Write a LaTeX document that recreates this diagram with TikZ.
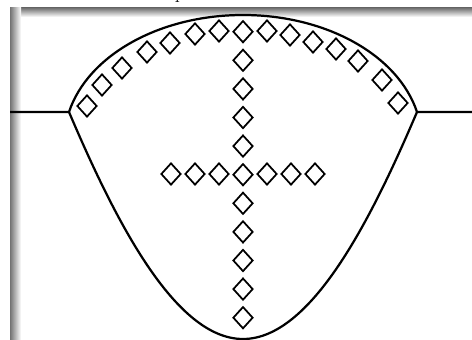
\documentclass[tikz,border=0pt]{standalone}
\usetikzlibrary{shapes.geometric}
\tikzset{
  rim/.style={line width=1.9pt, line join=round},
  dia/.style={draw, diamond, line width=1.5pt, minimum width=0.6cm, minimum height=0.66cm, inner sep=0pt},
  capn/.style={font=\LARGE, anchor=base, inner sep=0pt},
}
\begin{document}
\begin{tikzpicture}[x=0.03cm,y=0.03cm]
\useasboundingbox (0,0) rectangle (472,340);
\begin{scope}
\clip (0,0) rectangle (472,340);
\node[capn] (cap) at (180,341) {p};
\end{scope}
% frame shadow
\shade[top color=black!55, bottom color=white] (10,332) rectangle (472,323);
\shade[left color=black!55, right color=white] (10,0) rectangle (21,332);
% outline
\coordinate (wl) at (10,228);
\coordinate (ml) at (69,228);
\coordinate (mr) at (417,228);
\coordinate (wr) at (472,228);
\coordinate (top) at (243,325);
\coordinate (bot) at (243,1);
\draw[rim] (wl) -- (ml) .. controls (88,285) and (160,325) .. (top) .. controls (326,325) and (398,285) .. (mr) -- (wr);
\draw[rim] (ml) .. controls (115,120) and (175,1) .. (bot) .. controls (311,1) and (371,120) .. (mr);
% cross
\foreach \i in {0,...,10}
  \node[dia] (v\i) at (243,{308.3-28.6*\i}) {};
\foreach \j [count=\k] in {-3,-2,-1,1,2,3}
  \node[dia] (h\k) at ({243+24*\j},166) {};
% along the dome
\foreach \px/\py [count=\k] in {87/234, 102/255, 122/272, 147/288, 170/297, 195/306, 219/309, 267/309, 290/305, 313/298, 336/291, 358/279, 382/260, 398/237}
  \node[dia] (a\k) at (\px,\py) {};
\end{tikzpicture}
\end{document}
